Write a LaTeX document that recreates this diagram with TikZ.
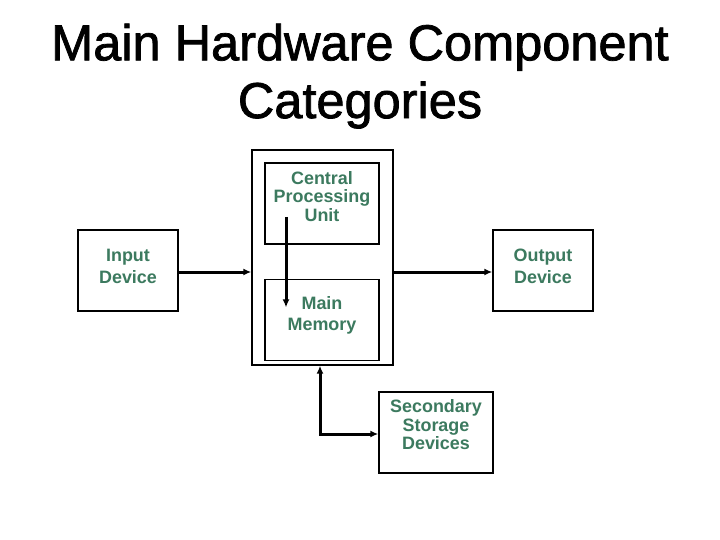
\documentclass[tikz,border=0pt]{standalone}
\usepackage{fontspec}
\setmainfont{Liberation Sans}
\newfontfamily\titleFont[FakeBold=1.5]{Liberation Sans}
\usepackage{xcolor}
\usepackage{tikz}
\usetikzlibrary{positioning,calc,arrows.meta}
\definecolor{unitGreen}{RGB}{60,122,95}
\tikzset{
  frameBox/.style={
    rectangle,
    draw=black,
    line width=1.4bp,
    minimum width=141bp,
    minimum height=215bp,
    inner sep=0pt
  },
  unitBox/.style={
    rectangle,
    draw=black,
    line width=1.4bp,
    minimum width=114bp,
    minimum height=81bp,
    inner sep=0pt
  },
  ioBox/.style={
    unitBox,
    minimum width=100bp
  },
  unitText/.style={
    text=unitGreen,
    font=\bfseries\fontsize{18}{18.5}\selectfont,
    align=center,
    inner sep=0pt
  },
  wideText/.style={
    unitText,
    font=\bfseries\fontsize{18}{22}\selectfont
  },
  titleText/.style={
    font=\titleFont\fontsize{50.7}{58}\selectfont,
    align=center,
    inner sep=0pt
  },
  arrowLine/.style={
    line width=3bp,
    -{Latex[length=8bp,width=7bp]}
  },
  twoWayLine/.style={
    line width=3bp,
    {Latex[length=8bp,width=7bp]}-{Latex[length=8bp,width=7bp]}
  }
}
\begin{document}
\begin{tikzpicture}[x=1bp,y=-1bp]
        \fill[white] (0,0) rectangle (720,540);
        \useasboundingbox (0,0) rectangle (720,540);
        \node[titleText, anchor=north] (title) at (360,23.5) {Main Hardware Component\\Categories};

        \node[frameBox] (computer) at (322.5,257.5) {};
        \node[unitBox] (cpu) at (322,203.5) {};
        \node[unitBox, below=34bp of cpu] (memory) {};
        \node[ioBox] (input) at (128,270.5) {};
        \node[ioBox] (output) at (543,270.5) {};
        \node[unitBox] (secondary) at (436,432.5) {};

        \node[unitText] (cpuText) at ([yshift=7bp]cpu) {Central\\Processing\\Unit};
        \node[wideText] (memoryText) at ([yshift=4.5bp]memory) {Main\\Memory};
        \node[wideText] (inputText) at ([yshift=4.5bp]input) {Input\\Device};
        \node[wideText] (outputText) at ([yshift=4.5bp]output) {Output\\Device};
        \node[unitText] (secondaryText) at ([yshift=7.5bp]secondary) {Secondary\\Storage\\Devices};

        \draw[arrowLine] ([yshift=-1.5bp]input.east) -- ([yshift=-1.5bp]input.east -| computer.west);
        \draw[arrowLine] ([yshift=-1.5bp]output.west -| computer.east) -- ([yshift=-1.5bp]output.west);
        \draw[arrowLine] ([shift={(-36,13.5)}]cpu.center) -- ([shift={(-36,-12.5)}]memory.center);
        \draw[twoWayLine] ([xshift=-2.5bp]computer.south) |- ([yshift=-1.5bp]secondary.west);
    \end{tikzpicture}
\end{document}
